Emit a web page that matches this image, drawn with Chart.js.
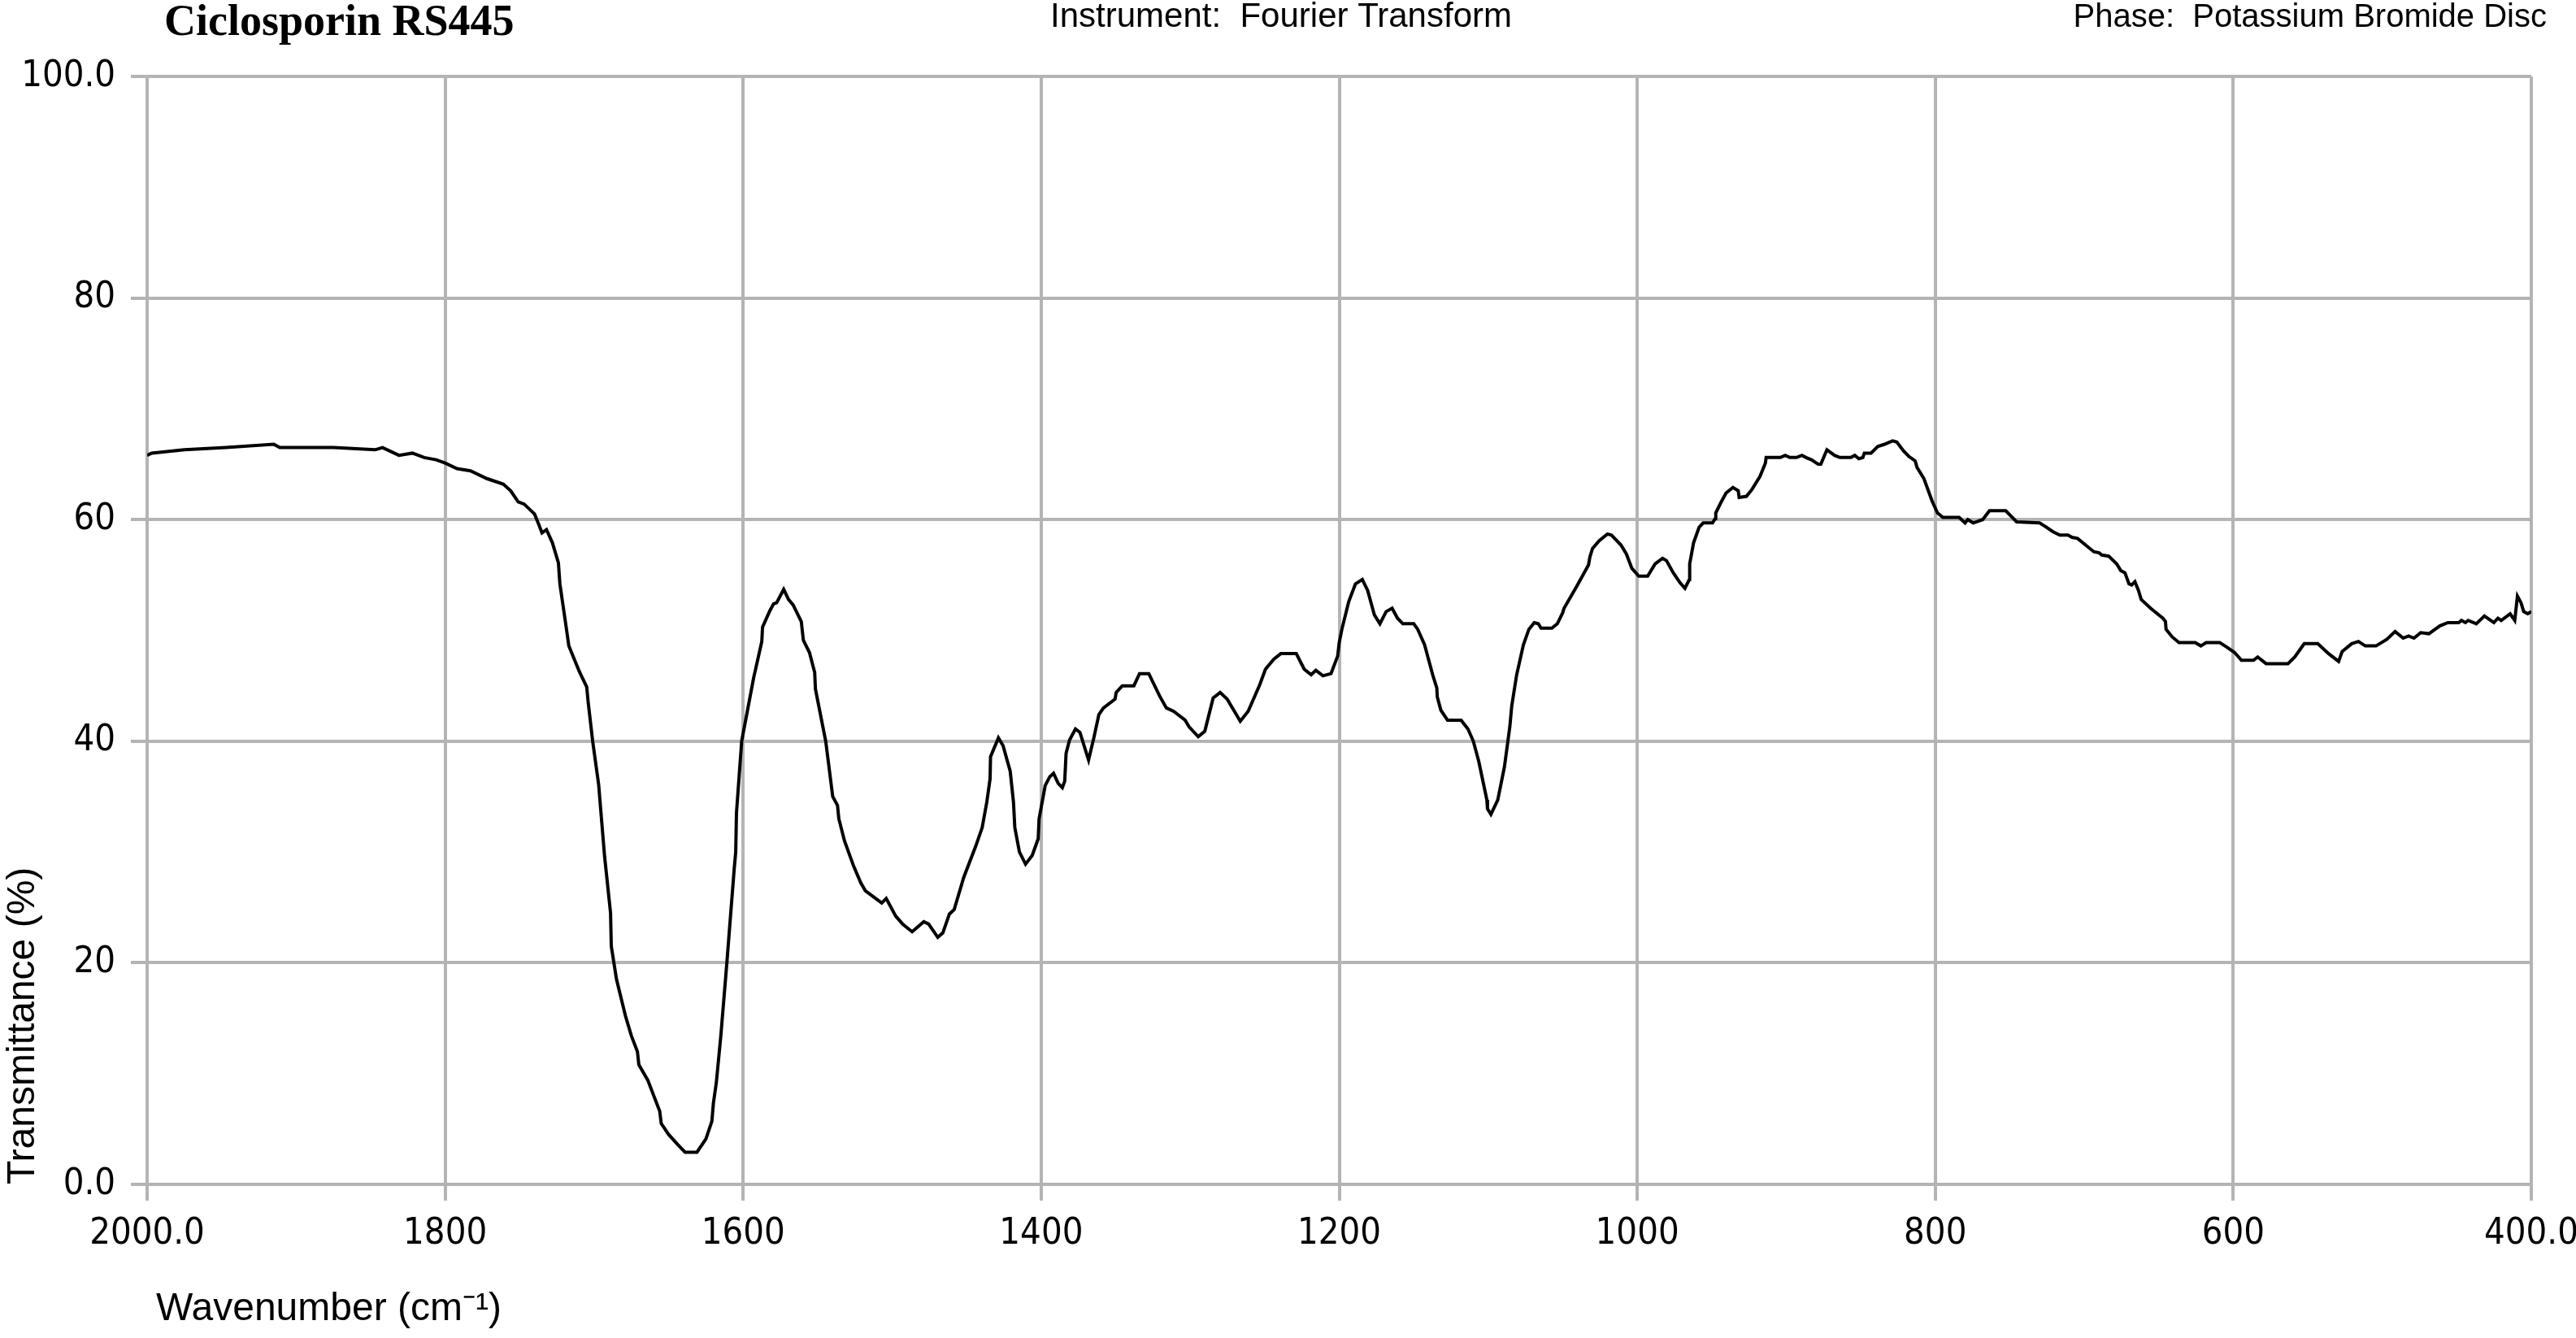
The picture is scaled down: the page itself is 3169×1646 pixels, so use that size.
<!DOCTYPE html>
<html>
<head>
<meta charset="utf-8">
<title>Ciclosporin RS445</title>
<script src="https://cdn.jsdelivr.net/npm/chart.js@4.4.0/dist/chart.umd.min.js"></script>
<style>
  html, body { margin: 0; padding: 0; background: #fff; }
  canvas { display: block; }
</style>
</head>
<body>
<canvas id="irChart" width="3169" height="1646"></canvas>
<script>
// spectrum (cm-1 / %T)
const wavenumbers = [
  2000, 1997, 1975, 1947, 1915, 1911, 1875, 1847, 1842, 1831, 1822, 1814, 1806, 1800, 1792, 1783,
  1772, 1761, 1756, 1751, 1747, 1740, 1737, 1735, 1732, 1728, 1724, 1723, 1719, 1717, 1710, 1705,
  1704, 1701, 1697, 1693, 1689, 1688.5, 1685, 1679, 1675, 1671, 1670, 1664, 1656, 1655, 1650, 1644,
  1639, 1631, 1625, 1621, 1620, 1618, 1615, 1611, 1606, 1605, 1604.5, 1601, 1593, 1587.5, 1587, 1582,
  1579.6, 1577.5, 1572.8, 1569.6, 1566.5, 1561, 1559.6, 1555.5, 1552, 1551.5, 1544.6, 1539.9, 1536.7, 1535.8, 1532, 1525.8,
  1521, 1518, 1513, 1507, 1504, 1497.6, 1493, 1486.6, 1478.8, 1475.6, 1469.4, 1466, 1461.6, 1458.4, 1452, 1444,
  1439.6, 1436.5, 1434.3, 1434, 1428.7, 1425.6, 1420.8, 1418.6, 1417.7, 1414.6, 1410.5, 1406, 1402, 1401.4, 1397.3, 1394.2,
  1391.7, 1388.6, 1385.8, 1384.2, 1383.3, 1381, 1377, 1374, 1368.2, 1364.5, 1361.3, 1358.2, 1350.4, 1349.7, 1345.6, 1337.8,
  1334, 1327.8, 1320.6, 1316, 1311.2, 1303.4, 1300.8, 1294.6, 1290.2, 1284.6, 1279.9, 1275.2, 1266.4, 1261.1, 1253.3, 1249.5,
  1243.9, 1239.2, 1228.8, 1223.5, 1218.8, 1215.7, 1210.9, 1205.5, 1201, 1200, 1198.2, 1193.6, 1189.1, 1184.5, 1180.9, 1176.4,
  1172.7, 1168.5, 1164.5, 1160.9, 1157.3, 1150, 1147.3, 1142.7, 1137.3, 1134.5, 1134.2, 1131.8, 1127.3, 1118.2, 1113.6, 1110,
  1106.4, 1100.9, 1100.5, 1098.2, 1093.6, 1089.1, 1085.5, 1084.2, 1080.9, 1076.4, 1072.7, 1069.1, 1066.4, 1064.5, 1057.3, 1053.6,
  1050, 1049.1, 1040.9, 1032.7, 1031.8, 1030, 1025.5, 1020, 1017.3, 1010.9, 1007.3, 1003.6, 999, 993, 988, 983,
  980.4, 975.8, 971.3, 968, 965, 964.8, 962.2, 958.5, 955.8, 949.5, 947.6, 947.3, 944, 940.4, 935.8, 932.2,
  931.6, 926.7, 923.1, 917.6, 914, 913.5, 904, 900.7, 897.6, 893.1, 889.5, 886.7, 883.1, 878.6, 876.8, 872.7,
  867.6, 864, 856.7, 854, 851.3, 848.6, 847.6, 843.1, 838.6, 834, 832.2, 828.6, 825.8, 821.3, 817.7, 813.5,
  812.2, 807.6, 802.2, 798.5, 794.9, 784, 780, 778.2, 774.5, 768.2, 763.6, 752.7, 745.4, 730, 726.4, 720.9,
  716.4, 710.9, 708.2, 704.5, 699.1, 693.6, 690, 688.2, 683.6, 678.2, 675.5, 672.7, 670, 668.2, 666, 663.6,
  661.8, 655.5, 647.3, 645.5, 645.1, 640.9, 636.4, 625.5, 621.8, 618.2, 609.1, 604.5, 599.1, 594.5, 586.4, 583.6,
  578, 563.3, 558.7, 552.4, 543.3, 536, 529.3, 526.9, 520.5, 516, 511.4, 504.2, 496.9, 491.4, 486, 482.4,
  478.7, 474.2, 468.7, 461.5, 456, 448.7, 446.9, 444.2, 442.4, 436.9, 431.5, 425.1, 422.4, 420.2, 414.2, 411.1,
  409.3, 406.9, 405.1, 402.4, 400
];
const transmittance = [
  65.8, 66.0, 66.3, 66.5, 66.8, 66.5, 66.5, 66.3, 66.5, 65.8, 66.0, 65.6, 65.4, 65.1, 64.6, 64.4,
  63.7, 63.2, 62.6, 61.6, 61.4, 60.5, 59.5, 58.8, 59.1, 57.9, 56.1, 54.2, 50.5, 48.6, 46.3, 44.9,
  43.5, 40.0, 36.1, 29.6, 24.5, 21.5, 18.5, 15.2, 13.4, 12.0, 10.8, 9.4, 6.6, 5.5, 4.5, 3.6,
  2.9, 2.9, 4.1, 5.7, 7.3, 9.2, 13.4, 19.9, 28.5, 30.0, 33.5, 40.0, 45.7, 49.0, 50.3, 51.8,
  52.4, 52.5, 53.7, 52.8, 52.3, 50.8, 49.1, 48.0, 46.2, 44.7, 40.0, 35.0, 34.2, 33.0, 31.0, 28.7,
  27.2, 26.5, 26.0, 25.4, 25.8, 24.2, 23.5, 22.8, 23.7, 23.5, 22.3, 22.7, 24.4, 24.8, 27.7, 30.5,
  32.2, 34.5, 36.6, 38.6, 40.3, 39.6, 37.3, 34.5, 32.2, 30.0, 28.9, 29.7, 31.2, 33.0, 36.0, 36.8,
  37.1, 36.2, 35.8, 36.4, 38.9, 40.1, 41.1, 40.8, 38.3, 40.4, 42.4, 43.0, 43.8, 44.4, 45.0, 45.0,
  46.1, 46.1, 44.1, 43.0, 42.7, 41.9, 41.3, 40.4, 40.9, 43.9, 44.4, 43.8, 41.8, 42.7, 45.1, 46.5,
  47.4, 47.9, 47.9, 46.5, 46.0, 46.4, 45.9, 46.1, 47.7, 48.9, 50.1, 52.6, 54.2, 54.6, 53.6, 51.4,
  50.6, 51.7, 52.0, 51.1, 50.6, 50.6, 50.1, 48.7, 46.0, 44.8, 44.0, 42.8, 41.9, 41.9, 41.1, 40.0,
  38.2, 34.7, 33.9, 33.4, 34.7, 37.7, 41.3, 43.2, 46.0, 48.7, 50.1, 50.7, 50.6, 50.2, 50.2, 50.6,
  51.6, 52.0, 53.9, 55.9, 56.6, 57.4, 58.1, 58.7, 58.6, 57.7, 56.9, 55.6, 54.9, 54.9, 56.0, 56.5,
  56.3, 55.2, 54.3, 53.8, 54.6, 56.0, 57.9, 59.3, 59.7, 59.7, 60.1, 60.6, 61.5, 62.4, 62.9, 62.6,
  62.0, 62.1, 62.7, 63.9, 65.1, 65.6, 65.6, 65.8, 65.6, 65.6, 65.8, 65.6, 65.4, 65.0, 65.0, 66.3,
  65.8, 65.6, 65.6, 65.8, 65.5, 65.6, 66.0, 66.0, 66.6, 66.8, 66.9, 67.1, 67.0, 66.2, 65.7, 65.3,
  64.7, 63.7, 61.7, 60.6, 60.2, 60.2, 59.7, 60.0, 59.7, 60.0, 60.8, 60.8, 59.8, 59.7, 59.4, 58.9,
  58.6, 58.6, 58.4, 58.3, 57.7, 57.1, 57.0, 56.8, 56.7, 56.0, 55.4, 55.2, 54.2, 54.1, 54.4, 53.6,
  52.8, 52.0, 51.1, 50.8, 50.1, 49.4, 48.9, 48.9, 48.6, 48.9, 48.9, 48.5, 48.0, 47.3, 47.3, 47.6,
  47.0, 47.0, 47.6, 48.8, 48.8, 47.9, 47.2, 48.1, 48.8, 49.0, 48.6, 48.6, 49.2, 49.9, 49.3, 49.5,
  49.3, 49.8, 49.7, 50.4, 50.7, 50.7, 50.9, 50.7, 50.9, 50.6, 51.3, 50.7, 51.1, 50.9, 51.5, 50.9,
  53.1, 52.5, 51.7, 51.5, 51.7
];

const xTickValues = [2000, 1800, 1600, 1400, 1200, 1000, 800, 600, 400];
const xTickLabels = ['2000.0', '1800', '1600', '1400', '1200', '1000', '800', '600', '400.0'];
const yTickValues = [0, 20, 40, 60, 80, 100];
const yTickLabels = ['0.0', '20', '40', '60', '80', '100.0'];

const sampleName = 'Ciclosporin RS445';
const instrumentText = 'Instrument:  Fourier Transform';
const phaseText = 'Phase:  Potassium Bromide Disc';
const xTitle = 'Wavenumber (cm\u207B\u00B9)';
const yTitle = 'Transmittance (%)';

const narrowFamily = "'Liberation Sans Narrow', 'Arial Narrow', 'DejaVu Sans Condensed', sans-serif";
const sansFamily = "'Liberation Sans', Arial, sans-serif";
const gridGrey = '#b4b4b4';

// header line and x-axis title
const headerPlugin = {
  id: 'headerText',
  afterDraw(chart) {
    const ctx = chart.ctx;
    const area = chart.chartArea;
    ctx.save();
    ctx.fillStyle = '#000';
    ctx.textBaseline = 'alphabetic';

    ctx.font = "bold 54px 'Liberation Serif', 'Times New Roman', serif";
    ctx.textAlign = 'left';
    ctx.fillText(sampleName, 202, 43);

    ctx.font = '42px ' + sansFamily;
    ctx.textAlign = 'center';
    ctx.fillText(instrumentText, 1576, 33);
    ctx.font = '40px ' + sansFamily;
    ctx.textAlign = 'right';
    ctx.fillText(phaseText, 3133, 33);

    ctx.font = '48px ' + sansFamily;
    ctx.textAlign = 'left';
    ctx.fillText(xTitle, area.left + 11, 1624);
    ctx.restore();
  }
};

const spectrum = wavenumbers.map((w, i) => ({ x: w, y: transmittance[i] }));

new Chart(document.getElementById('irChart'), {
  type: 'line',
  data: {
    datasets: [{
      label: sampleName,
      data: spectrum,
      borderColor: '#000',
      borderWidth: 4,
      pointRadius: 0,
      tension: 0,
      fill: false
    }]
  },
  options: {
    responsive: false,
    animation: false,
    layout: { padding: { left: 0, right: 55, top: 94, bottom: 0 } },
    plugins: {
      legend: { display: false },
      tooltip: { enabled: false }
    },
    scales: {
      x: {
        type: 'linear',
        reverse: true,
        min: 400,
        max: 2000,
        afterBuildTicks(scale) {
          scale.ticks = xTickValues.map(v => ({ value: v }));
        },
        afterFit(scale) {
          scale.height = 189;
          scale.paddingLeft = 0;
          scale.paddingRight = 0;
        },
        ticks: {
          color: '#000',
          padding: 14,
          maxRotation: 0,
          autoSkip: false,
          font: { family: narrowFamily, size: 45 },
          callback: v => xTickLabels[xTickValues.indexOf(v)]
        },
        grid: { color: gridGrey, lineWidth: 4, tickLength: 20, tickColor: gridGrey, tickWidth: 4 },
        border: { display: true, color: gridGrey, width: 4 }
      },
      y: {
        min: 0,
        max: 100,
        afterBuildTicks(scale) {
          scale.ticks = yTickValues.map(v => ({ value: v }));
        },
        afterFit(scale) {
          scale.width = 181;
        },
        ticks: {
          color: '#000',
          padding: 19,
          font: { family: narrowFamily, size: 45 },
          callback: v => yTickLabels[yTickValues.indexOf(v)]
        },
        grid: { color: gridGrey, lineWidth: 4, tickLength: 20, tickColor: gridGrey, tickWidth: 4 },
        border: { display: true, color: gridGrey, width: 4 },
        title: {
          display: true,
          text: yTitle,
          align: 'start',
          color: '#000',
          padding: 0,
          font: { family: sansFamily, size: 48 }
        }
      }
    }
  },
  plugins: [headerPlugin]
});
</script>
</body>
</html>
